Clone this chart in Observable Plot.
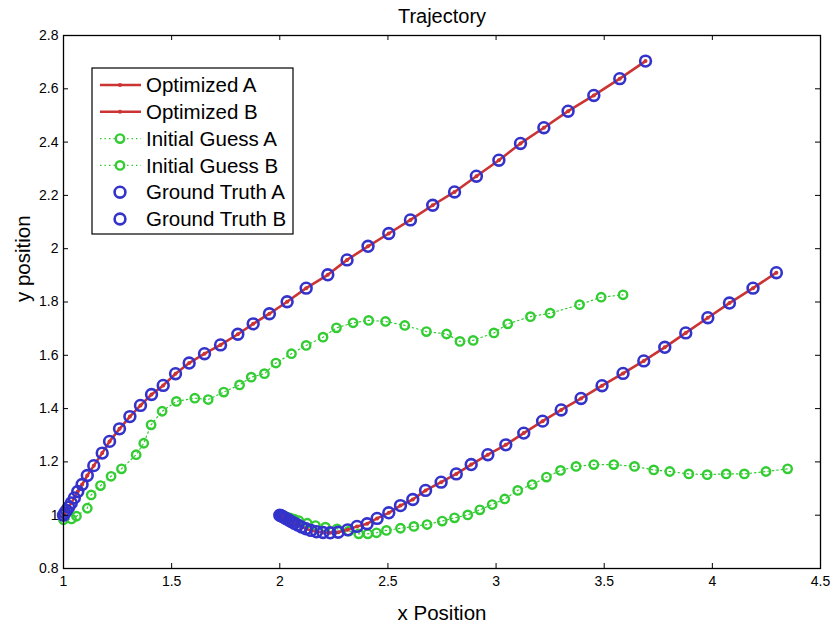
<!DOCTYPE html>
<html>
<head>
<meta charset="utf-8">
<script src="https://cdn.jsdelivr.net/npm/d3@7"></script>
<script src="https://cdn.jsdelivr.net/npm/@observablehq/plot@0.6"></script>
<style>
  body { margin: 0; background: #fff; }
  #chart { width: 833px; height: 628px; }
</style>
</head>
<body>
<div id="chart"></div>
<script>
// Axis ticks
const xTicks = [1, 1.5, 2, 2.5, 3, 3.5, 4, 4.5];
const yTicks = [0.8, 1, 1.2, 1.4, 1.6, 1.8, 2, 2.2, 2.4, 2.6, 2.8];

// Ground-truth trajectories (the optimized solution lies on top of them)
const truthAx = [1.0, 1.006, 1.014, 1.024, 1.036, 1.05, 1.066, 1.086, 1.11, 1.14, 1.179, 1.213, 1.259, 1.307, 1.356, 1.407, 1.461, 1.518, 1.581, 1.652, 1.726, 1.806, 1.877, 1.952, 2.034, 2.122, 2.222, 2.311, 2.408, 2.504, 2.604, 2.707, 2.808, 2.909, 3.013, 3.113, 3.221, 3.333, 3.452, 3.572, 3.691];
const truthAy = [1.0, 1.008, 1.018, 1.03, 1.046, 1.065, 1.089, 1.115, 1.149, 1.186, 1.233, 1.277, 1.324, 1.37, 1.412, 1.453, 1.487, 1.531, 1.571, 1.606, 1.639, 1.679, 1.718, 1.756, 1.801, 1.852, 1.902, 1.958, 2.009, 2.057, 2.108, 2.163, 2.213, 2.272, 2.332, 2.395, 2.454, 2.516, 2.575, 2.638, 2.704];
const truthBx = [2.0, 2.006, 2.013, 2.021, 2.03, 2.041, 2.053, 2.067, 2.083, 2.101, 2.121, 2.144, 2.17, 2.2, 2.233, 2.27, 2.314, 2.357, 2.404, 2.45, 2.504, 2.558, 2.615, 2.674, 2.746, 2.816, 2.885, 2.962, 3.045, 3.128, 3.215, 3.301, 3.393, 3.49, 3.587, 3.683, 3.78, 3.877, 3.979, 4.079, 4.188, 4.296];
const truthBy = [1.0, 0.998, 0.995, 0.991, 0.987, 0.982, 0.976, 0.97, 0.963, 0.956, 0.949, 0.943, 0.938, 0.935, 0.934, 0.936, 0.945, 0.958, 0.968, 0.988, 1.009, 1.036, 1.059, 1.093, 1.124, 1.155, 1.19, 1.227, 1.264, 1.308, 1.353, 1.395, 1.438, 1.486, 1.532, 1.579, 1.63, 1.684, 1.741, 1.796, 1.852, 1.91];

// Optimized trajectories
const optAx = truthAx, optAy = truthAy;
const optBx = truthBx, optBy = truthBy;

// Initial guesses
const guessAx = [1.0, 1.037, 1.06, 1.11, 1.128, 1.171, 1.22, 1.268, 1.336, 1.371, 1.405, 1.456, 1.522, 1.607, 1.669, 1.741, 1.814, 1.868, 1.929, 1.982, 2.054, 2.122, 2.2, 2.262, 2.339, 2.411, 2.489, 2.578, 2.678, 2.771, 2.833, 2.894, 2.99, 3.054, 3.159, 3.25, 3.386, 3.486, 3.587];
const guessAy = [0.983, 0.986, 0.996, 1.026, 1.076, 1.111, 1.146, 1.174, 1.227, 1.27, 1.339, 1.39, 1.427, 1.439, 1.434, 1.462, 1.489, 1.518, 1.531, 1.571, 1.606, 1.637, 1.668, 1.703, 1.722, 1.731, 1.727, 1.712, 1.689, 1.68, 1.652, 1.656, 1.684, 1.718, 1.745, 1.758, 1.79, 1.818, 1.827];
const guessBx = [2.0, 2.015, 2.03, 2.048, 2.067, 2.088, 2.127, 2.165, 2.211, 2.265, 2.319, 2.365, 2.407, 2.447, 2.493, 2.558, 2.62, 2.681, 2.751, 2.808, 2.869, 2.925, 2.982, 3.04, 3.1, 3.167, 3.233, 3.298, 3.37, 3.452, 3.544, 3.64, 3.729, 3.803, 3.891, 3.976, 4.064, 4.148, 4.248, 4.348];
const guessBy = [1.0, 0.998, 0.994, 0.99, 0.985, 0.98, 0.97, 0.961, 0.955, 0.949, 0.94, 0.93, 0.93, 0.934, 0.943, 0.951, 0.958, 0.965, 0.978, 0.99, 1.001, 1.02, 1.04, 1.061, 1.093, 1.115, 1.143, 1.168, 1.183, 1.19, 1.19, 1.183, 1.17, 1.164, 1.155, 1.152, 1.155, 1.155, 1.164, 1.174];

const seriesNames = ["Optimized A", "Optimized B", "Initial Guess A", "Initial Guess B", "Ground Truth A", "Ground Truth B"];

const RED = "#cc3333", GREEN = "#33cc33", BLUE = "#3333cc";
const FONT = "'Liberation Sans', Arial, Helvetica, sans-serif";

const W = 833, H = 628, ML = 63, MR = 13, MT = 35, MB = 60;
const frameW = W - ML - MR, frameH = H - MT - MB, TICK = 5;

const pts = (xs, ys) => xs.map((x, i) => ({x, y: ys[i]}));
const optA = pts(optAx, optAy), optB = pts(optBx, optBy);
const guessA = pts(guessAx, guessAy), guessB = pts(guessBx, guessBy);
const truthA = pts(truthAx, truthAy), truthB = pts(truthBx, truthBy);

const guessMarks = g => [
  Plot.line(g, {x: "x", y: "y", stroke: GREEN, strokeWidth: 1.2, strokeDasharray: "1.5,3"}),
  Plot.dot(g, {x: "x", y: "y", r: 4.2, stroke: GREEN, strokeWidth: 2.4, fill: "none"})
];
const optMarks = o => [
  Plot.line(o, {x: "x", y: "y", stroke: RED, strokeWidth: 2.6}),
  Plot.dot(o, {x: "x", y: "y", r: 2, fill: RED, stroke: "none"})
];
const truthMarks = t => Plot.dot(t, {x: "x", y: "y", r: 5.4, stroke: BLUE, strokeWidth: 2.6, fill: "none"});

const tickFmt = d => `${+d.toFixed(1)}`;

const chart = Plot.plot({
  width: W,
  height: H,
  marginLeft: ML,
  marginRight: MR,
  marginTop: MT,
  marginBottom: MB,
  style: {fontFamily: FONT, fontSize: "14px", color: "#000", background: "#fff"},
  x: {domain: [1, 4.5]},
  y: {domain: [0.8, 2.8]},
  marks: [
    ...guessMarks(guessA),
    ...guessMarks(guessB),
    ...optMarks(optA),
    ...optMarks(optB),
    truthMarks(truthA),
    truthMarks(truthB),
    Plot.frame({stroke: "#000", strokeWidth: 1.3}),
    // inward ticks on all four sides
    Plot.tickX(xTicks, {x: d => d, insetTop: frameH - TICK, stroke: "#000"}),
    Plot.tickX(xTicks, {x: d => d, insetBottom: frameH - TICK, stroke: "#000"}),
    Plot.tickY(yTicks, {y: d => d, insetRight: frameW - TICK, stroke: "#000"}),
    Plot.tickY(yTicks, {y: d => d, insetLeft: frameW - TICK, stroke: "#000"}),
    // tick labels
    Plot.axisX(xTicks, {anchor: "bottom", tickSize: 0, tickPadding: 8, tickFormat: tickFmt, fontSize: 14, label: null}),
    Plot.axisY(yTicks, {anchor: "left", tickSize: 0, tickPadding: 5, tickFormat: tickFmt, fontSize: 14, label: null}),
    // title and axis labels
    Plot.text(["Trajectory"], {frameAnchor: "top", dy: -19, text: d => d, fontSize: 20, lineAnchor: "middle", fill: "#000"}),
    Plot.text(["x Position"], {frameAnchor: "bottom", dy: 45, text: d => d, fontSize: 20.5, lineAnchor: "middle", fill: "#000"}),
    Plot.text(["y position"], {frameAnchor: "left", dx: -40, rotate: -90, text: d => d, fontSize: 20.5, lineAnchor: "middle", fill: "#000"})
  ]
});

document.getElementById("chart").appendChild(chart);

// Legend box in the upper-left corner of the plot area
const svg = d3.select(chart);
const lg = svg.append("g").attr("transform", "translate(92,68)");
const rowH = 26.8, firstRow = 17;
lg.append("rect").attr("width", 201).attr("height", 166)
  .attr("fill", "#fff").attr("stroke", "#000").attr("stroke-width", 1.2);
seriesNames.forEach((name, i) => {
  const cy = firstRow + i * rowH;
  const row = lg.append("g").attr("transform", `translate(0,${cy})`);
  if (i < 2) {
    row.append("line").attr("x1", 8).attr("x2", 49).attr("stroke", RED).attr("stroke-width", 2.6);
    row.append("circle").attr("cx", 28).attr("r", 2).attr("fill", RED);
  } else if (i < 4) {
    row.append("line").attr("x1", 8).attr("x2", 49).attr("stroke", GREEN).attr("stroke-width", 1.2).attr("stroke-dasharray", "1.5,3");
    row.append("circle").attr("cx", 28).attr("r", 4.2).attr("fill", "#fff").attr("stroke", GREEN).attr("stroke-width", 2.4);
  } else {
    row.append("circle").attr("cx", 28).attr("r", 5.4).attr("fill", "none").attr("stroke", BLUE).attr("stroke-width", 2.6);
  }
  row.append("text").attr("x", 54).attr("dy", "0.35em").attr("text-anchor", "start")
    .attr("font-family", FONT).attr("font-size", 20.5).attr("fill", "#000").text(name);
});
</script>
</body>
</html>
